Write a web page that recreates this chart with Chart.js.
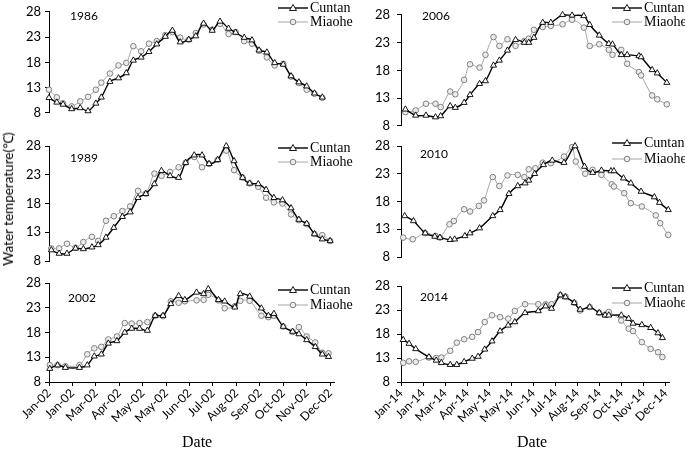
<!DOCTYPE html>
<html>
<head>
<meta charset="utf-8">
<script src="https://cdn.jsdelivr.net/npm/chart.js@4.4.0/dist/chart.umd.min.js"></script>
<style>
  body { margin: 0; background: #fff; }
  #wrap { position: relative; width: 685px; height: 453px; overflow: hidden; }
  canvas { position: absolute; left: 0; top: 0; }
  .yr { position: absolute; font: 12px Lato, sans-serif; color: #000; line-height: 12px; }
  .leg { position: absolute; font: 14px "Liberation Serif", serif; color: #000; line-height: 14px; white-space: nowrap; }
  .leg svg { vertical-align: middle; margin-right: 2px; }
  .leg span { vertical-align: middle; }
  .date { position: absolute; font: 16px "Liberation Serif", serif; color: #000; }
  #ytitle { position: absolute; left: 8px; top: 199px; font: 13.5px Lato, sans-serif; color: #000;
            transform: translate(-50%, -50%) rotate(-90deg); white-space: nowrap; }
</style>
</head>
<body>
<div id="wrap">
  <canvas id="c1986" width="685" height="453"></canvas>
  <canvas id="c1989" width="685" height="453"></canvas>
  <canvas id="c2002" width="685" height="453"></canvas>
  <canvas id="c2006" width="685" height="453"></canvas>
  <canvas id="c2010" width="685" height="453"></canvas>
  <canvas id="c2014" width="685" height="453"></canvas>
  <div id="ytitle">Water temperature(℃)</div>
  <div class="date" style="left:182px;top:433px">Date</div>
  <div class="date" style="left:517px;top:433px">Date</div>
</div>
<script>
// ---- axes ----
const xTickDays = [0, 30, 60, 90, 120, 150, 180, 210, 240, 270, 300, 330, 360];
const xLabels02 = ['Jan-02', 'Jan-02', 'Mar-02', 'Apr-02', 'May-02', 'May-02', 'Jun-02', 'Jul-02', 'Aug-02', 'Sep-02', 'Oct-02', 'Nov-02', 'Dec-02'];
const xLabels14 = ['Jan-14', 'Jan-14', 'Mar-14', 'Apr-14', 'May-14', 'May-14', 'Jun-14', 'Jul-14', 'Aug-14', 'Sep-14', 'Oct-14', 'Nov-14', 'Dec-14'];
const yTicks = [8, 13, 18, 23, 28];

// ---- 1986 ----
const days1986 = [0, 10, 18, 29, 40, 50, 60, 67, 78, 89, 99, 108, 118, 128, 138, 149, 158, 168, 179, 188, 198, 209, 219, 230, 239, 250, 260, 269, 279, 289, 300, 310, 320, 330, 340, 350];
const cuntan1986 = [11.0, 10.1, 9.7, 8.8, 9.0, 8.4, 9.9, 11.1, 14.2, 14.9, 15.9, 18.4, 19.0, 20.1, 21.6, 23.1, 24.3, 22.0, 22.5, 23.2, 25.7, 24.3, 26.1, 24.7, 23.9, 22.9, 22.4, 20.4, 20.0, 17.9, 17.6, 15.3, 14.1, 13.3, 11.9, 11.1];
const miaohe1986 = [12.6, 11.1, 9.9, 9.3, 10.3, 11.2, 12.6, 14.0, 15.8, 17.4, 17.9, 21.2, 20.2, 21.7, 22.2, 23.4, 24.0, 22.9, 22.5, 23.8, 25.5, 24.5, 25.6, 23.6, 24.0, 22.2, 21.7, 20.3, 19.0, 17.4, 17.7, 15.2, 13.9, 12.6, 11.8, 11.0];

// ---- 1989 ----
const days1989 = [3, 13, 23, 34, 44, 55, 63, 73, 83, 94, 104, 114, 124, 135, 144, 155, 166, 175, 186, 196, 205, 216, 227, 237, 248, 257, 268, 278, 288, 299, 310, 320, 330, 340, 350, 360];
const cuntan1989 = [9.9, 9.3, 9.3, 10.2, 10.1, 10.4, 10.8, 12.1, 13.8, 15.7, 16.5, 19.0, 19.7, 21.4, 23.7, 22.8, 22.5, 25.1, 26.4, 26.4, 24.9, 25.6, 28.0, 25.4, 22.5, 21.5, 21.4, 20.4, 19.0, 18.6, 17.2, 15.2, 14.5, 12.7, 11.8, 11.5];
const miaohe1989 = [10.2, 10.2, 11.0, 10.3, 11.3, 12.2, 11.5, 15.0, 15.8, 16.7, 17.5, 20.2, 19.7, 23.2, 22.8, 23.5, 24.3, 25.1, 26.1, 24.3, 24.9, 25.6, 27.2, 23.8, 22.5, 21.5, 20.9, 19.0, 18.2, 18.0, 16.1, 15.1, 14.4, 12.7, 12.5, 11.5];

// ---- 2002 ----
const days2002 = [1, 11, 21, 39, 49, 58, 67, 76, 87, 97, 106, 116, 126, 136, 146, 156, 166, 174, 189, 198, 204, 217, 225, 238, 245, 257, 272, 281, 288, 300, 312, 320, 330, 341, 350, 358];
const cuntan2002 = [10.7, 11.4, 10.9, 10.9, 11.4, 13.2, 13.6, 15.8, 16.3, 18.0, 18.8, 18.8, 18.4, 21.4, 21.4, 23.8, 25.4, 24.6, 26.1, 25.8, 26.8, 24.6, 24.3, 23.1, 25.8, 25.3, 22.9, 21.4, 21.8, 19.2, 18.2, 17.7, 16.5, 15.1, 13.6, 13.1];
const miaohe2002 = [11.4, 11.4, 11.2, 11.4, 13.6, 14.8, 15.1, 16.6, 17.2, 19.9, 19.8, 19.9, 20.1, 21.4, 21.3, 24.3, 24.0, 24.3, 24.5, 24.6, 25.6, 24.5, 22.9, 23.3, 24.4, 24.4, 21.4, 21.1, 21.4, 19.2, 18.1, 19.1, 17.2, 16.0, 13.9, 13.8];

// ---- 2006 ----
const days2006 = [6, 20, 34, 47, 54, 67, 74, 86, 94, 107, 115, 126, 134, 145, 156, 168, 174, 181, 193, 204, 220, 233, 249, 257, 270, 283, 288, 300, 308, 324, 327, 342, 349, 362];
const cuntan2006 = [11.0, 9.9, 9.9, 9.6, 9.8, 11.6, 11.3, 12.2, 13.6, 15.6, 16.1, 18.9, 19.8, 21.6, 23.5, 23.0, 23.0, 23.9, 26.6, 26.6, 28.0, 27.9, 27.8, 26.2, 24.3, 22.8, 22.7, 20.8, 20.8, 20.6, 20.4, 18.1, 17.5, 15.8];
const miaohe2006 = [10.5, 10.8, 12.0, 12.0, 11.4, 14.2, 13.7, 16.3, 19.1, 18.5, 20.8, 24.0, 22.4, 23.6, 22.4, 23.3, 23.7, 25.3, 25.8, 26.0, 26.3, 27.1, 25.7, 22.4, 22.7, 21.7, 20.8, 21.7, 19.2, 17.7, 17.1, 13.5, 12.8, 11.9];

// ---- 2010 (the two stations were not sampled on the same days) ----
const cuntanDays2010 = [5, 17, 33, 46, 53, 67, 73, 87, 94, 107, 125, 135, 147, 159, 169, 174, 182, 194, 206, 222, 237, 250, 261, 273, 286, 290, 303, 313, 327, 345, 352, 364];
const cuntan2010 = [15.4, 14.5, 12.3, 11.7, 11.5, 11.1, 11.2, 11.8, 12.3, 13.2, 15.4, 16.5, 19.4, 20.8, 21.3, 21.8, 23.0, 24.6, 25.4, 25.0, 28.0, 24.3, 23.2, 23.6, 23.5, 23.5, 22.2, 21.3, 19.8, 18.8, 17.8, 16.5];
const miaoheDays2010 = [3, 16, 33, 47, 53, 66, 72, 86, 94, 106, 113, 125, 134, 145, 159, 168, 174, 183, 193, 204, 222, 233, 238, 251, 261, 273, 287, 290, 304, 313, 328, 347, 353, 364];
const miaohe2010 = [11.5, 11.2, 12.3, 11.8, 11.5, 13.9, 14.5, 16.6, 16.2, 17.2, 18.2, 22.4, 20.8, 22.7, 22.8, 22.4, 23.8, 24.0, 25.0, 24.9, 26.1, 27.8, 25.2, 23.0, 23.7, 22.8, 21.1, 20.7, 19.5, 17.7, 17.1, 15.5, 14.1, 12.0];

// ---- 2014 ----
const days2014 = [3, 11, 20, 38, 48, 55, 67, 76, 86, 97, 105, 114, 124, 135, 146, 155, 169, 187, 197, 205, 217, 224, 236, 244, 257, 270, 278, 283, 300, 310, 316, 328, 340, 350, 356];
const cuntan2014 = [16.8, 16.0, 14.9, 13.2, 12.5, 12.0, 11.6, 11.6, 12.2, 12.9, 13.3, 14.8, 16.5, 18.6, 19.8, 20.5, 22.4, 22.8, 23.8, 23.3, 26.1, 25.7, 24.5, 23.1, 23.6, 22.4, 21.9, 21.9, 21.9, 21.2, 20.2, 19.9, 19.3, 18.2, 17.2];
const miaohe2014 = [12.0, 12.3, 12.2, 13.1, 13.0, 13.1, 14.5, 16.2, 16.9, 17.4, 18.4, 20.5, 21.9, 21.5, 21.2, 22.8, 24.2, 24.2, 24.2, 24.2, 26.1, 25.8, 24.5, 22.9, 23.6, 22.4, 22.0, 22.6, 20.8, 19.1, 18.6, 16.3, 14.9, 14.2, 13.2];

const W = 685, H = 453;
const Y_AXIS_W = 40;
const X_AXIS_H = 40;

function toXY(xs, ys) {
    return xs.map((x, i) => ({ x: x, y: ys[i] }));
}

function makePanel(id, p) {
    const showX = !!p.labels;
    new Chart(document.getElementById(id), {
        type: 'line',
        data: {
            datasets: [{
                label: 'Cuntan',
                data: toXY(p.cDays, p.cVals),
                borderColor: '#000',
                borderWidth: 1.4,
                pointStyle: 'triangle',
                pointRadius: 3.5,
                pointBackgroundColor: '#fff',
                pointBorderColor: '#000',
                pointBorderWidth: 0.9,
                tension: 0.3,
                clip: false
            }, {
                label: 'Miaohe',
                data: toXY(p.mDays, p.mVals),
                borderColor: '#a6a6a6',
                borderWidth: 1,
                pointStyle: 'circle',
                pointRadius: 2.8,
                pointBackgroundColor: '#ececec',
                pointBorderColor: '#808080',
                pointBorderWidth: 1,
                tension: 0.3,
                clip: false
            }]
        },
        options: {
            responsive: false,
            animation: false,
            events: [],
            layout: {
                padding: {
                    left: p.left - Y_AXIS_W,
                    top: p.top,
                    right: W - p.right,
                    bottom: H - p.bottom - (showX ? X_AXIS_H : 0)
                }
            },
            plugins: {
                legend: { display: false },
                tooltip: { enabled: false }
            },
            scales: {
                x: {
                    type: 'linear',
                    display: showX,
                    min: 0,
                    max: 365,
                    afterBuildTicks: s => { s.ticks = xTickDays.map(v => ({ value: v })); },
                    afterFit: s => { s.height = showX ? X_AXIS_H : 0; },
                    ticks: {
                        autoSkip: false,
                        maxRotation: 45,
                        minRotation: 45,
                        padding: 0,
                        color: '#000',
                        font: { family: 'Lato', size: 12 },
                        callback: (v, i) => p.labels ? p.labels[i] : ''
                    },
                    grid: { drawOnChartArea: false, tickLength: 4, color: '#000' },
                    border: { color: '#000' }
                },
                y: {
                    min: 8,
                    max: 28,
                    afterBuildTicks: s => { s.ticks = yTicks.map(v => ({ value: v })); },
                    afterFit: s => { s.width = Y_AXIS_W; },
                    ticks: {
                        autoSkip: false,
                        padding: p.yPad,
                        color: '#000',
                        font: { family: 'Lato', size: 13 }
                    },
                    grid: { drawOnChartArea: false, tickLength: 4, color: '#000' },
                    border: { color: '#000' }
                }
            }
        }
    });
}

// panel boxes: left/right = day 0 / day 365, top/bottom = 28 / 8
makePanel('c1986', { cDays: days1986, cVals: cuntan1986, mDays: days1986, mVals: miaohe1986, left: 49, right: 334, top: 9, bottom: 113, yPad: 4 });
makePanel('c1989', { cDays: days1989, cVals: cuntan1989, mDays: days1989, mVals: miaohe1989, left: 49, right: 334, top: 146, bottom: 261, yPad: 4 });
makePanel('c2002', { cDays: days2002, cVals: cuntan2002, mDays: days2002, mVals: miaohe2002, left: 49, right: 334, top: 283, bottom: 382, yPad: 4, labels: xLabels02 });
makePanel('c2006', { cDays: days2006, cVals: cuntan2006, mDays: days2006, mVals: miaohe2006, left: 401, right: 669, top: 10, bottom: 126, yPad: 7 });
makePanel('c2010', { cDays: cuntanDays2010, cVals: cuntan2010, mDays: miaoheDays2010, mVals: miaohe2010, left: 401, right: 669, top: 146, bottom: 257, yPad: 7 });
makePanel('c2014', { cDays: days2014, cVals: cuntan2014, mDays: days2014, mVals: miaohe2014, left: 401, right: 669, top: 286, bottom: 382, yPad: 7, labels: xLabels14 });

// year labels and legends
const wrap = document.getElementById('wrap');
const years = [['1986', 70, 10], ['1989', 70, 152], ['2002', 68, 292], ['2006', 422, 10], ['2010', 420, 148], ['2014', 420, 291]];
years.forEach(([t, x, y]) => {
    const d = document.createElement('div');
    d.className = 'yr';
    d.style.left = x + 'px';
    d.style.top = y + 'px';
    d.textContent = t;
    wrap.appendChild(d);
});

const triSvg = '<svg width="30" height="10"><line x1="0" y1="5" x2="30" y2="5" stroke="#000" stroke-width="1.4"/>' +
    '<polygon points="15,1.5 18.5,7.5 11.5,7.5" fill="#fff" stroke="#000" stroke-width="0.9"/></svg>';
const cirSvg = '<svg width="30" height="10"><line x1="0" y1="5" x2="30" y2="5" stroke="#a6a6a6" stroke-width="1"/>' +
    '<circle cx="15" cy="5" r="2.8" fill="#ececec" stroke="#808080" stroke-width="1"/></svg>';
const legends = [[278, 7, 21], [278, 147, 161], [278, 289, 304], [612, 7, 21], [612, 142, 158], [612, 287, 302]];
legends.forEach(([x, y1, y2]) => {
    [[y1, triSvg, 'Cuntan'], [y2, cirSvg, 'Miaohe']].forEach(([y, svg, name]) => {
        const d = document.createElement('div');
        d.className = 'leg';
        d.style.left = x + 'px';
        d.style.top = (y - 7) + 'px';
        d.innerHTML = svg + '<span>' + name + '</span>';
        wrap.appendChild(d);
    });
});
</script>
</body>
</html>
